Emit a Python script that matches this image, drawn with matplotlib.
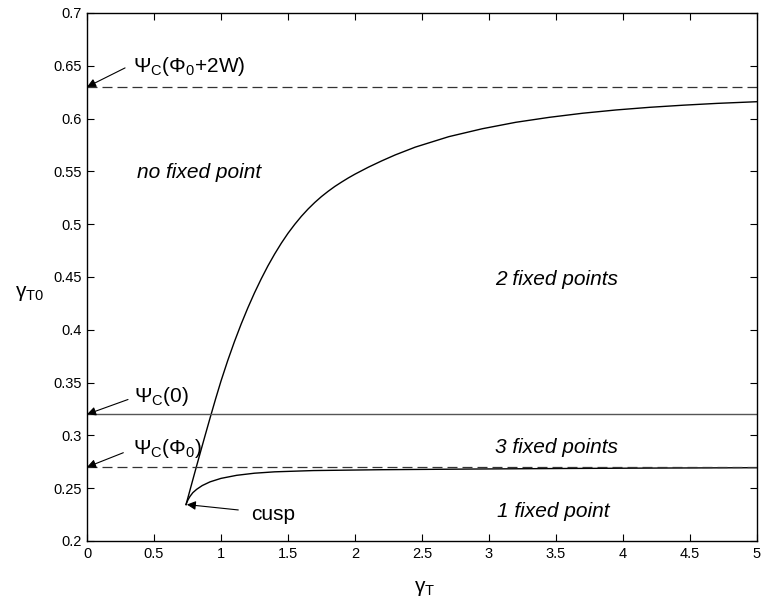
import matplotlib
matplotlib.use('Agg')
import matplotlib.pyplot as plt
import numpy as np

plt.rcParams['font.family'] = ['Liberation Sans', 'DejaVu Sans']
plt.rcParams['mathtext.fontset'] = 'custom'
plt.rcParams['mathtext.rm'] = 'Liberation Sans'
plt.rcParams['mathtext.it'] = 'Liberation Sans:italic'

# upper branch of the bifurcation curve
upper_x = [0.739, 0.76, 0.78, 0.80, 0.82, 0.85, 0.88, 0.92, 0.96, 1.0, 1.05, 1.1,
           1.15, 1.2, 1.25, 1.3, 1.35, 1.4, 1.45, 1.5, 1.55, 1.6, 1.65, 1.7, 1.75,
           1.8, 1.85, 1.9, 1.95, 2.0, 2.1, 2.2, 2.3, 2.45, 2.7, 2.95, 3.2, 3.45,
           3.7, 3.95, 4.2, 4.45, 4.7, 5.0]
upper_y = [0.2345, 0.2442, 0.2535, 0.2628, 0.272, 0.2857, 0.2993, 0.3172, 0.3347,
           0.3515, 0.3708, 0.3887, 0.4053, 0.4207, 0.435, 0.4482, 0.4605, 0.4717,
           0.482, 0.4914, 0.4998, 0.5075, 0.5144, 0.5206, 0.5262, 0.5312, 0.5358,
           0.5399, 0.5438, 0.5474, 0.554, 0.560, 0.5656, 0.573, 0.5829, 0.5904,
           0.5965, 0.6012, 0.6051, 0.6082, 0.6107, 0.6127, 0.6144, 0.616]

# lower branch
lower_x = [0.739, 0.745, 0.755, 0.769, 0.79, 0.819, 0.86, 0.918, 1.0, 1.117, 1.25,
           1.4, 1.689, 2.187, 2.933, 3.6, 4.3, 5.0]
lower_y = [0.2345, 0.2365, 0.2393, 0.2423, 0.2458, 0.249, 0.2525, 0.256, 0.2593,
           0.2622, 0.2642, 0.2655, 0.2667, 0.2675, 0.2682, 0.2687, 0.2691, 0.2694]

psi_upper = 0.63
psi_zero = 0.32
psi_phi0 = 0.27
cusp = (0.745, 0.2345)

x_ticks = np.arange(0, 5.01, 0.5)
x_labels = ['0', '0.5', '1', '1.5', '2', '2.5', '3', '3.5', '4', '4.5', '5']
y_ticks = np.arange(0.2, 0.701, 0.05)
y_labels = ['0.2', '0.25', '0.3', '0.35', '0.4', '0.45', '0.5', '0.55', '0.6', '0.65', '0.7']

fig = plt.figure(figsize=(7.63, 6.07), dpi=100)
ax = fig.add_axes([87 / 763, 66 / 607, 670 / 763, 528 / 607])

ax.plot(upper_x, upper_y, color='black', lw=1.0)
ax.plot(lower_x, lower_y, color='black', lw=1.0)

ax.axhline(psi_upper, color='#333333', lw=0.9, linestyle=(0, (8, 4)))
ax.axhline(psi_phi0, color='#333333', lw=0.9, linestyle=(0, (8, 4)))
ax.axhline(psi_zero, color='#555555', lw=1.0)

arrow = dict(arrowstyle='-|>', color='black', lw=0.8, mutation_scale=13,
             shrinkA=0, shrinkB=0)
ax.annotate('', xy=(0, psi_upper), xytext=(0.284, 0.648), arrowprops=arrow)
ax.annotate('', xy=(0, psi_zero), xytext=(0.306, 0.334), arrowprops=arrow)
ax.annotate('', xy=(0, psi_phi0), xytext=(0.271, 0.2836), arrowprops=arrow)
ax.annotate('', xy=cusp, xytext=(1.129, 0.2294), arrowprops=arrow)

fs = 15
ax.text(0.343, 0.6444, 'Ψ$_\\mathrm{C}$(Φ$_\\mathrm{0}$+2W)', fontsize=fs, va='baseline')
ax.text(0.35, 0.3319, 'Ψ$_\\mathrm{C}$(0)', fontsize=fs, va='baseline')
ax.text(0.341, 0.2824, 'Ψ$_\\mathrm{C}$(Φ$_\\mathrm{0}$)', fontsize=fs, va='baseline')
ax.text(1.222, 0.2199, 'cusp', fontsize=fs, va='baseline')

ax.text(0.376, 0.5435, 'no fixed point', fontsize=fs, style='italic', va='baseline')
ax.text(3.045, 0.4424, '2 fixed points', fontsize=fs, style='italic', va='baseline')
ax.text(3.045, 0.283, '3 fixed points', fontsize=fs, style='italic', va='baseline')
ax.text(3.06, 0.2224, '1 fixed point', fontsize=fs, style='italic', va='baseline')

ax.set_xlim(0, 5)
ax.set_ylim(0.2, 0.7)
ax.set_xticks(x_ticks)
ax.set_xticklabels(x_labels)
ax.set_yticks(y_ticks)
ax.set_yticklabels(y_labels)
ax.tick_params(direction='in', top=True, right=True, length=5, width=0.8,
               labelsize=10.5, pad=4)
for spine in ax.spines.values():
    spine.set_linewidth(1.0)

ax.set_xlabel('γ$_\\mathrm{T}$', fontsize=fs, va='center')
ax.xaxis.set_label_coords(0.504, -0.09)
ax.set_ylabel('γ$_\\mathrm{T0}$', fontsize=fs, rotation=0, va='center', ha='center')
ax.yaxis.set_label_coords(-0.085, 0.468)

fig.savefig('out.png', dpi=100)
